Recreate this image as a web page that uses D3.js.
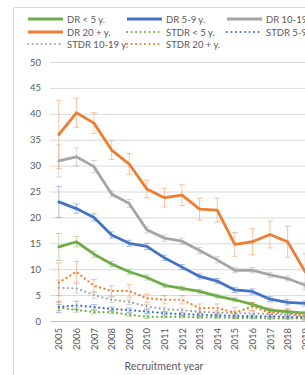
<!DOCTYPE html>
<html><head><meta charset="utf-8">
<script src="https://cdn.jsdelivr.net/npm/d3@7"></script>
<style>
html,body{margin:0;padding:0;background:#fff;overflow:hidden}
svg{display:block;font-family:Lato,"Open Sans",sans-serif}
</style></head><body>
<svg id="c" width="305" height="375"></svg>
<script>
const years = [2005,2006,2007,2008,2009,2010,2011,2012,2013,2014,2015,2016,2017,2018,2019];
const yTicks = [0,5,10,15,20,25,30,35,40,45,50];

const drU5   = [14.3,15.3,12.9,11.0,9.5,8.4,6.9,6.3,5.7,4.8,4.1,3.2,2.1,1.8,1.5];
const drU5E  = [2.6,1.0,0.6,0.5,0.5,0.5,0.4,0.4,0.4,0.4,0.4,0.4,0.4,0.4,0.4];
const dr5_9  = [23.0,21.7,20.0,16.6,15.0,14.4,12.2,10.4,8.6,7.7,6.0,5.7,4.2,3.6,3.4];
const dr5_9E = [3.0,0.9,0.7,0.6,0.6,0.6,0.5,0.5,0.5,0.5,0.5,0.5,0.5,0.5,0.5];
const dr10_19  = [30.9,31.7,29.8,24.5,22.7,17.6,16.0,15.4,13.6,11.8,9.8,9.8,8.9,8.2,6.9];
const dr10_19E = [3.1,1.7,1.2,0.6,0.8,0.6,0.6,0.6,0.6,0.6,0.5,0.5,0.5,0.5,0.5];
const dr20   = [36.0,40.2,38.2,33.0,30.3,25.5,23.8,24.3,21.6,21.4,14.8,15.3,16.7,15.3,9.5];
const dr20E  = [6.6,2.8,2.0,1.8,2.0,1.7,1.8,2.0,2.1,2.3,2.3,2.5,2.6,3.0,3.5];
const stU5   = [2.6,2.1,1.7,1.7,1.2,0.8,0.8,0.8,0.7,0.7,0.6,0.6,0.5,0.5,0.5];
const stU5E  = [0.6,0.4,0.3,0.3,0.3,0.3,0.2,0.2,0.2,0.2,0.2,0.2,0.2,0.2,0.2];
const st5_9  = [2.7,3.0,2.7,2.3,2.1,1.8,1.5,1.3,1.2,1.1,1.0,0.9,0.9,0.8,0.7];
const st5_9E = [1.1,0.8,0.5,0.4,0.4,0.4,0.3,0.3,0.3,0.3,0.3,0.3,0.3,0.3,0.3];
const st10_19  = [6.4,6.3,5.0,4.1,3.7,2.8,2.3,2.1,1.8,1.6,1.5,1.5,1.3,1.2,1.0];
const st10_19E = [1.5,0.9,0.6,0.5,0.5,0.4,0.4,0.4,0.4,0.4,0.4,0.4,0.4,0.4,0.4];
const st20   = [7.4,9.5,6.8,5.8,5.8,4.4,4.1,4.1,2.5,2.5,1.6,2.8,1.6,1.6,0.8];
const st20E  = [3.8,2.0,1.2,1.0,1.2,0.8,0.8,0.8,0.8,0.8,1.0,0.8,0.8,0.8,0.7];

const names = ["DR < 5 y.","DR 5-9 y.","DR 10-19 y.","DR 20 + y.","STDR < 5 y.","STDR 5-9 y.","STDR 10-19 y.","STDR 20 + y."];
const colors = {green:"#70AD47", blue:"#4472C4", gray:"#A5A5A5", orange:"#ED7D31"};

const series = [
  {name:names[0], v:drU5, e:drU5E, c:colors.green, dot:false},
  {name:names[1], v:dr5_9, e:dr5_9E, c:colors.blue, dot:false},
  {name:names[2], v:dr10_19, e:dr10_19E, c:colors.gray, dot:false},
  {name:names[3], v:dr20, e:dr20E, c:colors.orange, dot:false},
  {name:names[4], v:stU5, e:stU5E, c:colors.green, dot:true},
  {name:names[5], v:st5_9, e:st5_9E, c:colors.blue, dot:true},
  {name:names[6], v:st10_19, e:st10_19E, c:colors.gray, dot:true},
  {name:names[7], v:st20, e:st20E, c:colors.orange, dot:true}
];

const svg = d3.select("#c");
// chart border
svg.append("rect").attr("x",13.5).attr("y",7.5).attr("width",400).attr("height",400)
  .attr("fill","none").attr("stroke","#d9d9d9");

const x = d3.scalePoint().domain(years).range([50,314]).padding(0.5);
const y = d3.scaleLinear().domain([0,50]).range([321,62]);

// gridlines
svg.append("g").selectAll("line").data(yTicks.filter(d=>d>0)).join("line")
  .attr("x1",50).attr("x2",314).attr("y1",d=>y(d)+0.5).attr("y2",d=>y(d)+0.5)
  .attr("stroke","#d9d9d9").attr("stroke-width",1);
// x axis line
svg.append("line").attr("x1",50).attr("x2",314).attr("y1",y(0)+0.5).attr("y2",y(0)+0.5)
  .attr("stroke","#bfbfbf");

// y labels
svg.append("g").selectAll("text").data(yTicks).join("text")
  .attr("x",41).attr("y",d=>y(d)+3.5).attr("text-anchor","end")
  .attr("font-size",9.5).attr("fill","#595959").text(d=>d);

// x labels
svg.append("g").selectAll("text").data(years).join("text")
  .attr("transform",d=>`translate(${x(d)+3.5},328) rotate(-90)`)
  .attr("text-anchor","end").attr("font-size",9.5).attr("fill","#595959").text(d=>d);

svg.append("text").attr("x",164).attr("y",370).attr("text-anchor","middle")
  .attr("font-size",10.5).attr("fill","#595959").text("Recruitment year");

const line = d3.line().x((d,i)=>x(years[i])).y(d=>y(d));

// error bars
series.forEach(s=>{
  const g = svg.append("g").attr("stroke",s.c).attr("stroke-opacity",0.45).attr("stroke-width",1);
  s.v.forEach((v,i)=>{
    const cx = x(years[i]);
    const t = y(v+s.e[i]), b = y(Math.max(0,v-s.e[i]));
    g.append("line").attr("x1",cx).attr("x2",cx).attr("y1",t).attr("y2",b);
    g.append("line").attr("x1",cx-3).attr("x2",cx+3).attr("y1",t).attr("y2",t);
    g.append("line").attr("x1",cx-3).attr("x2",cx+3).attr("y1",b).attr("y2",b);
  });
});

// lines (draw dotted first, then solid)
const order = [4,5,6,7,0,1,2,3];
order.forEach(k=>{
  const s = series[k];
  const p = svg.append("path").attr("d",line(s.v)).attr("fill","none").attr("stroke",s.c)
    .attr("stroke-linejoin","round");
  if (s.dot) p.attr("stroke-width",2.2).attr("stroke-dasharray","0.1 4.4").attr("stroke-linecap","round");
  else p.attr("stroke-width",2.8).attr("stroke-linecap","round");
});

// legend
const lx = [28,127,227], ly = [19,32,44];
series.forEach((s,i)=>{
  const col = i%3, row = Math.floor(i/3);
  const g = svg.append("g");
  const l = g.append("line").attr("x1",lx[col]).attr("x2",lx[col]+35)
    .attr("y1",ly[row]).attr("y2",ly[row]).attr("stroke",s.c);
  if (s.dot) l.attr("stroke-width",2).attr("stroke-dasharray","0.1 4.4").attr("stroke-linecap","round");
  else l.attr("stroke-width",2.8);
  g.append("text").attr("x",lx[col]+39).attr("y",ly[row]+3.5).attr("font-size",9.5)
    .attr("fill","#595959").text(s.name);
});
</script>
</body></html>
